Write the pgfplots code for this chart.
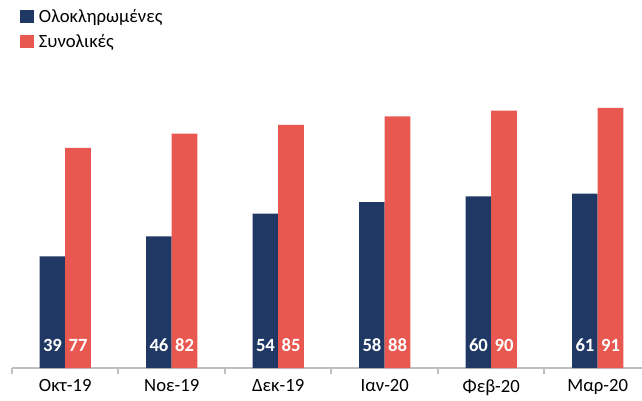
\documentclass[border=0pt]{standalone}
\usepackage{fontspec}
\setmainfont{Carlito}
\usepackage{pgfplots}
\pgfplotsset{compat=1.18}
\definecolor{navyBar}{RGB}{32,56,100}
\definecolor{redBar}{RGB}{232,88,80}
\definecolor{axGray}{RGB}{191,191,191}

\begin{document}
\begin{tikzpicture}[x=1pt,y=1pt]
\useasboundingbox (0,0) rectangle (481.5,300);
\begin{axis}[
  at={(9pt,24pt)}, anchor=south west,
  scale only axis,
  width=479.25pt, height=276pt,
  ymin=0, ymax=128.7,
  xmin=-0.5, xmax=5.5,
  ybar=0pt, bar width=0.24,
  axis x line*=bottom, axis y line=none,
  axis line style={axGray, line width=1.5pt},
  xtick={0,...,5},
  xticklabels={Οκτ-19,Νοε-19,Δεκ-19,Ιαν-20,Φεβ-20,Μαρ-20},
  major tick length=0pt,
  minor xtick={-0.5,0.5,...,4.5},
  minor tick length=4.5pt,
  tick align=outside,
  minor tick style={axGray, line width=1.5pt},
  xticklabel style={font=\fontsize{14}{16}\selectfont, yshift=-5pt},
  nodes near coords,
  nodes near coords style={font=\fontsize{14}{16}\selectfont\bfseries, white,
    /pgf/number format/assume math mode=true},
  visualization depends on=y \as \rawy,
  every node near coord/.append style={anchor=center,
    shift={(axis direction cs:0,{8-\rawy})}},
  legend style={at={(0,1)}, anchor=north west, xshift=3pt, yshift=-2.5pt,
    draw=none, fill=none, font=\fontsize{14}{16}\selectfont,
    row sep=3.5pt, legend cell align=left,
    nodes={inner xsep=4pt}},
  legend image code/.code={\fill[#1] (1pt,-5pt) rectangle (11pt,5pt);},
]
\addplot[fill=navyBar, draw=none] coordinates {(0,39)(1,46)(2,54)(3,58)(4,60)(5,61)};
\addplot[fill=redBar, draw=none] coordinates {(0,77)(1,82)(2,85)(3,88)(4,90)(5,91)};
\legend{Ολοκληρωμένες,Συνολικές}
\end{axis}
\end{tikzpicture}
\end{document}
